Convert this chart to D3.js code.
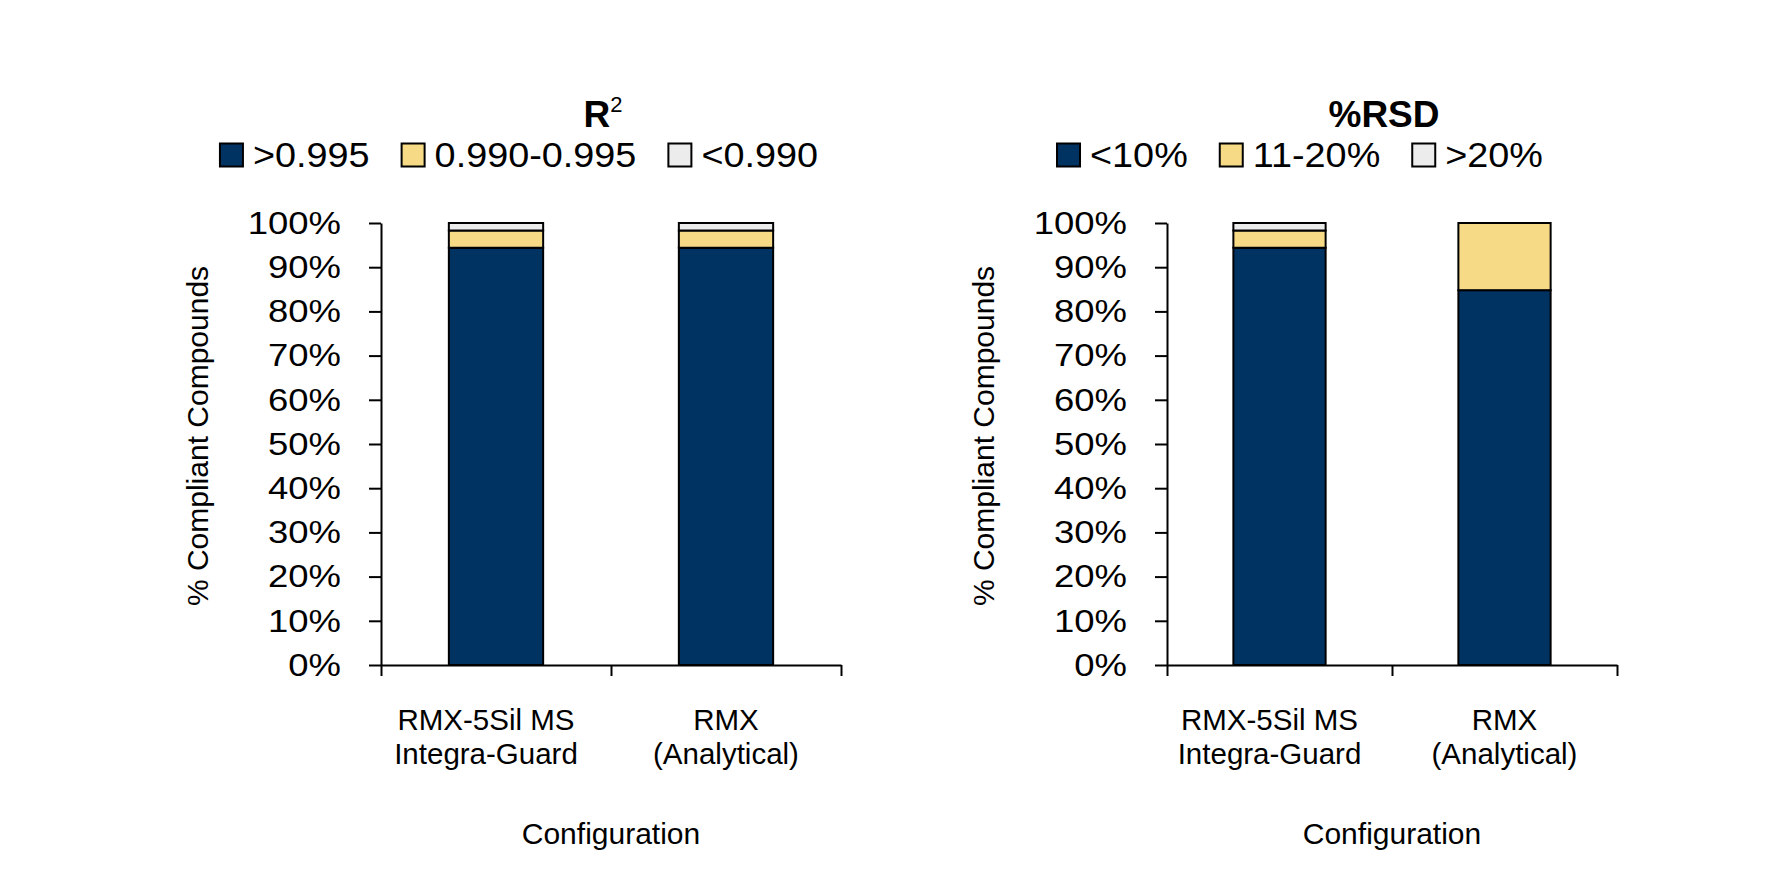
<!DOCTYPE html>
<html>
<head>
<meta charset="utf-8">
<script src="https://cdn.jsdelivr.net/npm/d3@7"></script>
<style>
body { margin: 0; background: #fff; }
text { font-family: "Liberation Sans", Arial, sans-serif; fill: #000; }
</style>
</head>
<body>
<svg id="chart" width="1786" height="887"></svg>
<script>
// data
var categories = [["RMX-5Sil MS", "Integra-Guard"], ["RMX", "(Analytical)"]];
var r2Keys = [">0.995", "0.990-0.995", "<0.990"];
var r2Good = [94.4, 94.4];
var r2Mid = [3.9, 3.9];
var r2Bad = [1.7, 1.7];
var rsdKeys = ["<10%", "11-20%", ">20%"];
var rsdGood = [94.4, 84.8];
var rsdMid = [3.9, 15.2];
var rsdBad = [1.7, 0];
var yTicks = [0, 10, 20, 30, 40, 50, 60, 70, 80, 90, 100];
var colors = ["#003262", "#f6da86", "#ececec"];

var plotTop = 223, plotBottom = 665, height = plotBottom - plotTop;
var svg = d3.select('#chart');
svg.append('rect').attr('width', 1786).attr('height', 887).attr('fill', '#fff');

// the reference text is a little wider than plain Arial
function stretch(sel, k){
  sel.each(function(){
    var w = this.getComputedTextLength();
    d3.select(this).attr('textLength', w*k).attr('lengthAdjust', 'spacingAndGlyphs');
  });
}

function drawPanel(p){
  var w = p.width;
  var g = svg.append('g').attr('transform', "translate(" + p.left + "," + plotTop + ")");

  var x = d3.scaleBand().domain(d3.range(categories.length)).range([0, w])
            .paddingInner(0.59).paddingOuter(0.295);
  var y = d3.scaleLinear().domain([0, 100]).range([height, 0]);

  var rows = categories.map(function(c, i){
    return {i: i, a: p.series[0][i], b: p.series[1][i], c: p.series[2][i]};
  });
  var stacked = d3.stack().keys(['a', 'b', 'c'])(rows);

  g.selectAll('g.layer')
    .data(stacked)
    .join('g')
      .classed('layer', true)
      .attr('fill', function(d, i){ return colors[i]; })
    .selectAll('rect')
    .data(function(d){ return d; })
    .join('rect')
      .attr('x', function(d){ return x(d.data.i); })
      .attr('y', function(d){ return y(d[1]); })
      .attr('width', x.bandwidth())
      .attr('height', function(d){ return y(d[0]) - y(d[1]); })
      .attr('stroke', '#000')
      .attr('stroke-width', 2);

  // y axis
  var ya = g.append('g')
    .call(d3.axisLeft(y).tickValues(yTicks).tickFormat(function(d){ return d + '%'; })
            .tickSize(12).tickSizeOuter(0).tickPadding(28));
  ya.select('.domain').attr('stroke-width', 2);
  ya.selectAll('.tick line').attr('stroke-width', 2);
  ya.selectAll('text').attr('font-size', 32).call(stretch, 1.14);

  // x axis, ticks between the categories
  var xb = d3.scaleLinear().domain([0, categories.length]).range([0, w]);
  var xa = g.append('g')
    .attr('transform', "translate(0," + height + ")")
    .call(d3.axisBottom(xb).tickValues(d3.range(categories.length + 1)).tickFormat('')
            .tickSize(11).tickSizeOuter(0));
  xa.select('.domain').attr('stroke-width', 2);
  xa.selectAll('.tick line').attr('stroke-width', 2);

  // category labels (first one sits a touch left, as in the source)
  var cl = g.selectAll('text.cat')
    .data(categories)
    .join('text')
      .classed('cat', true)
      .attr('text-anchor', 'middle')
      .attr('font-size', 29.5)
      .attr('y', height + 65);
  cl.each(function(lines, i){
    d3.select(this).selectAll('tspan')
      .data(lines)
      .join('tspan')
        .attr('x', x(i) + x.bandwidth()/2 - (i == 0 ? 10 : 0))
        .attr('dy', function(d, j){ return j == 0 ? 0 : 34; })
        .text(function(d){ return d; });
  });

  // axis titles
  g.append('text')
    .attr('transform', "translate(" + (-184) + "," + (height/2 - 8) + ") rotate(-90)")
    .attr('text-anchor', 'middle')
    .attr('dy', '0.35em')
    .attr('font-size', 30)
    .text('% Compliant Compounds');
  g.append('text')
    .attr('x', w/2)
    .attr('y', height + 179)
    .attr('text-anchor', 'middle')
    .attr('font-size', 30)
    .text('Configuration');

  // chart title
  var t = g.append('text')
    .attr('x', w/2 - 8)
    .attr('y', 127 - plotTop)
    .attr('text-anchor', 'middle')
    .attr('font-size', 37)
    .attr('font-weight', 'bold')
    .text(p.title);
  if(p.sup){
    t.append('tspan').attr('font-size', 22).attr('font-weight', 'normal')
      .attr('dy', -15).text(p.sup);
  }

  // legend, centred over the whole panel
  var lg = g.append('g').attr('transform', "translate(0," + (155 - plotTop) + ")");
  var items = lg.selectAll('g')
    .data(p.keys)
    .join('g');
  items.append('rect')
    .attr('x', 0).attr('y', -11.5)
    .attr('width', 23).attr('height', 23)
    .attr('fill', function(d, i){ return colors[i]; })
    .attr('stroke', '#000').attr('stroke-width', 2);
  items.append('text')
    .attr('x', 33)
    .attr('dy', '0.35em')
    .attr('font-size', 35)
    .text(function(d){ return d; })
    .call(stretch, 1.08);
  var widths = [];
  items.each(function(){ widths.push(this.getBBox().width); });
  var total = d3.sum(widths) + 32 * (widths.length - 1);
  var cx = (w - 184) / 2;
  var pos = cx - total/2;
  items.attr('transform', function(d, i){
    var px = pos;
    pos += widths[i] + 32;
    return "translate(" + px + ",0)";
  });
}

drawPanel({left: 381, width: 460, title: 'R', sup: '2', keys: r2Keys, series: [r2Good, r2Mid, r2Bad]});
drawPanel({left: 1167, width: 450, title: '%RSD', keys: rsdKeys, series: [rsdGood, rsdMid, rsdBad]});
</script>
</body>
</html>
